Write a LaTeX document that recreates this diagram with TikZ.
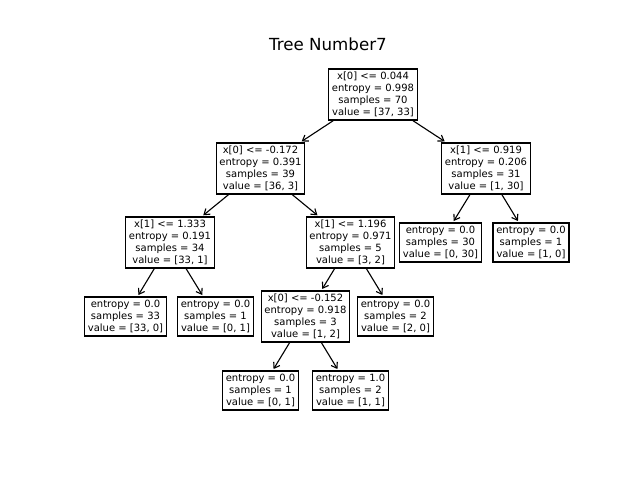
\documentclass[tikz,border=0pt]{standalone}
\usepackage{fontspec}
\setmainfont{DejaVu Sans}
\usetikzlibrary{arrows.meta}
\begin{document}
\begin{tikzpicture}[x=0.72pt,y=-0.72pt,
  treenode/.style={draw=black,line width=0.9pt,fill=white,align=center,
    font=\fontsize{7.2pt}{8.64pt}\selectfont,inner xsep=2.4pt,inner ysep=2.2pt},
  edge/.style={line width=0.8pt,-{Straight Barb[length=3.8pt,width=5.2pt]},shorten >=1.2pt}]
\useasboundingbox (0,0) rectangle (640,480);
\node[font=\fontsize{12pt}{14.4pt}\selectfont] (title) at (328,44) {Tree Number7};

\node[treenode] (n0) at (373,94.5) {x[0] <= 0.044\\entropy = 0.998\\samples = 70\\value = [37, 33]};
\node[treenode] (n1) at (260.5,168.5) {x[0] <= -0.172\\entropy = 0.391\\samples = 39\\value = [36, 3]};
\node[treenode] (n2) at (486,168.5) {x[1] <= 0.919\\entropy = 0.206\\samples = 31\\value = [1, 30]};
\node[treenode] (n3) at (170,242.5) {x[1] <= 1.333\\entropy = 0.191\\samples = 34\\value = [33, 1]};
\node[treenode] (n4) at (350.5,242.5) {x[1] <= 1.196\\entropy = 0.971\\samples = 5\\value = [3, 2]};
\node[treenode] (n5) at (440.5,242.5) {entropy = 0.0\\samples = 30\\value = [0, 30]};
\node[treenode] (n6) at (531,242.5) {entropy = 0.0\\samples = 1\\value = [1, 0]};
\node[treenode] (n7) at (125.5,316.5) {entropy = 0.0\\samples = 33\\value = [33, 0]};
\node[treenode] (n8) at (215.5,316.5) {entropy = 0.0\\samples = 1\\value = [0, 1]};
\node[treenode] (n9) at (305.5,316.5) {x[0] <= -0.152\\entropy = 0.918\\samples = 3\\value = [1, 2]};
\node[treenode] (n10) at (395.5,316.5) {entropy = 0.0\\samples = 2\\value = [2, 0]};
\node[treenode] (n11) at (260.5,390.5) {entropy = 0.0\\samples = 1\\value = [0, 1]};
\node[treenode] (n12) at (350.5,390.5) {entropy = 1.0\\samples = 2\\value = [1, 1]};

\draw[edge] (n0) -- (n1);
\draw[edge] (n0) -- (n2);
\draw[edge] (n1) -- (n3);
\draw[edge] (n1) -- (n4);
\draw[edge] (n2) -- (n5);
\draw[edge] (n2) -- (n6);
\draw[edge] (n3) -- (n7);
\draw[edge] (n3) -- (n8);
\draw[edge] (n4) -- (n9);
\draw[edge] (n4) -- (n10);
\draw[edge] (n9) -- (n11);
\draw[edge] (n9) -- (n12);
\end{tikzpicture}
\end{document}
